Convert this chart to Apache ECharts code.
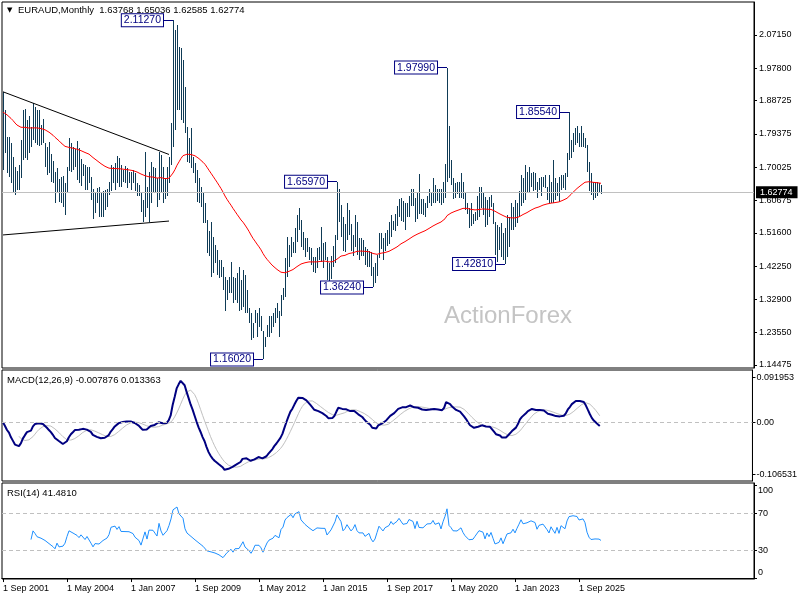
<!DOCTYPE html>
<html>
<head>
<meta charset="utf-8">
<title>EURAUD Monthly</title>
<script src="https://cdn.jsdelivr.net/npm/echarts@6.0.0/dist/echarts.min.js"></script>
<style>
html,body{margin:0;padding:0;background:#fff;}
#chart{width:800px;height:600px;}
</style>
</head>
<body>
<div id="chart"></div>
<script>
// ---------- DATA (monthly bars, first bar = Sep 2001) ----------
const high = [
1.912,1.861,1.786,1.784,1.769,1.728,1.702,1.690,1.706,1.777,
1.861,1.863,1.833,1.844,1.814,1.880,1.868,1.861,1.861,1.819,
1.835,1.767,1.756,1.772,1.737,1.719,1.688,1.697,1.666,1.674,
1.676,1.657,1.700,1.781,1.767,1.758,1.750,1.774,1.753,1.722,
1.710,1.706,1.702,1.702,1.674,1.638,1.629,1.641,1.646,1.627,
1.632,1.636,1.638,1.660,1.706,1.702,1.711,1.733,1.725,1.706,
1.692,1.704,1.697,1.688,1.688,1.691,1.683,1.655,1.650,1.627,
1.608,1.744,1.646,1.688,1.716,1.702,1.697,1.669,1.744,1.735,
1.700,1.670,1.700,1.730,1.825,2.1127,2.086,2.100,2.039,2.034,
2.001,1.926,1.814,1.781,1.809,1.730,1.711,1.692,1.669,1.646,
1.627,1.599,1.552,1.520,1.547,1.505,1.482,1.468,1.440,1.440,
1.421,1.393,1.383,1.393,1.435,1.393,1.388,1.402,1.421,1.383,
1.412,1.398,1.355,1.304,1.290,1.262,1.299,1.290,1.304,1.281,
1.239,1.224,1.257,1.281,1.281,1.290,1.304,1.318,1.295,1.341,
1.360,1.444,1.505,1.482,1.505,1.491,1.529,1.566,1.585,1.552,
1.519,1.501,1.501,1.477,1.472,1.449,1.449,1.472,1.477,1.533,
1.486,1.491,1.449,1.430,1.452,1.480,1.510,1.6597,1.640,1.595,
1.560,1.540,1.600,1.580,1.540,1.510,1.565,1.545,1.500,1.500,
1.495,1.475,1.470,1.465,1.462,1.420,1.430,1.455,1.515,1.515,
1.500,1.515,1.525,1.545,1.565,1.550,1.570,1.590,1.610,1.615,
1.605,1.600,1.600,1.620,1.640,1.640,1.615,1.630,1.680,1.610,
1.610,1.600,1.620,1.640,1.630,1.670,1.650,1.640,1.640,1.640,
1.660,1.710,1.9799,1.815,1.720,1.670,1.655,1.660,1.660,1.685,
1.660,1.630,1.600,1.585,1.600,1.570,1.575,1.618,1.645,1.645,
1.627,1.617,1.608,1.617,1.622,1.600,1.547,1.538,1.533,1.543,
1.515,1.529,1.566,1.561,1.599,1.589,1.608,1.599,1.632,1.678,
1.669,1.707,1.688,1.702,1.683,1.688,1.683,1.660,1.669,1.674,
1.674,1.678,1.646,1.678,1.660,1.720,1.669,1.655,1.674,1.678,
1.678,1.683,1.739,1.8554,1.777,1.797,1.809,1.816,1.795,1.816,
1.795,1.781,1.763,1.716,1.683,1.660,1.660,1.660,1.655,1.65036
];
const low = [
1.692,1.739,1.683,1.674,1.655,1.627,1.622,1.636,1.636,1.670,
1.720,1.725,1.720,1.739,1.758,1.777,1.767,1.763,1.760,1.763,
1.769,1.702,1.678,1.683,1.660,1.655,1.599,1.627,1.603,1.599,
1.589,1.566,1.630,1.690,1.688,1.692,1.702,1.664,1.655,1.647,
1.675,1.636,1.636,1.657,1.608,1.554,1.571,1.599,1.561,1.561,
1.561,1.580,1.589,1.622,1.632,1.655,1.636,1.655,1.646,1.646,
1.660,1.655,1.641,1.655,1.636,1.655,1.632,1.618,1.619,1.575,
1.547,1.561,1.585,1.547,1.600,1.630,1.627,1.589,1.608,1.630,
1.600,1.610,1.620,1.655,1.706,1.758,1.805,1.861,1.861,1.833,
1.823,1.795,1.716,1.711,1.697,1.683,1.655,1.603,1.599,1.589,
1.543,1.543,1.458,1.450,1.393,1.402,1.430,1.398,1.390,1.393,
1.355,1.295,1.327,1.346,1.346,1.318,1.327,1.318,1.295,1.299,
1.309,1.290,1.290,1.262,1.215,1.220,1.262,1.224,1.252,1.239,
1.1602,1.196,1.224,1.224,1.234,1.252,1.262,1.276,1.224,1.281,
1.327,1.337,1.393,1.421,1.449,1.458,1.458,1.491,1.524,1.477,
1.468,1.449,1.463,1.440,1.426,1.407,1.402,1.416,1.440,1.435,
1.416,1.440,1.383,1.374,1.385,1.420,1.430,1.495,1.545,1.505,
1.465,1.462,1.495,1.510,1.465,1.450,1.475,1.455,1.440,1.450,
1.450,1.425,1.420,1.420,1.395,1.3624,1.375,1.395,1.445,1.470,
1.440,1.465,1.480,1.485,1.505,1.525,1.520,1.535,1.560,1.550,
1.545,1.525,1.560,1.560,1.590,1.590,1.545,1.555,1.570,1.570,
1.565,1.560,1.585,1.600,1.590,1.600,1.600,1.605,1.600,1.595,
1.600,1.615,1.660,1.670,1.650,1.610,1.615,1.625,1.615,1.615,
1.610,1.580,1.570,1.530,1.535,1.540,1.550,1.552,1.560,1.585,
1.566,1.533,1.538,1.561,1.589,1.540,1.454,1.435,1.468,1.449,
1.440,1.4281,1.449,1.477,1.524,1.524,1.533,1.543,1.561,1.590,
1.599,1.608,1.627,1.627,1.646,1.632,1.636,1.613,1.636,1.618,
1.646,1.641,1.608,1.599,1.599,1.599,1.608,1.618,1.603,1.636,
1.641,1.636,1.674,1.7205,1.725,1.744,1.763,1.767,1.758,1.758,
1.758,1.753,1.688,1.632,1.622,1.608,1.613,1.618,1.627,1.62585
];
const close = [
1.855,1.760,1.730,1.740,1.670,1.670,1.640,1.660,1.700,1.760,
1.820,1.800,1.810,1.760,1.770,1.860,1.830,1.790,1.800,1.770,
1.780,1.740,1.720,1.700,1.690,1.660,1.630,1.670,1.620,1.610,
1.620,1.640,1.690,1.740,1.730,1.720,1.730,1.700,1.680,1.700,
1.690,1.660,1.680,1.670,1.620,1.580,1.600,1.610,1.590,1.600,
1.610,1.600,1.620,1.640,1.690,1.680,1.700,1.680,1.700,1.670,
1.680,1.670,1.680,1.670,1.670,1.660,1.640,1.630,1.620,1.590,
1.580,1.650,1.600,1.660,1.670,1.660,1.640,1.620,1.720,1.660,
1.620,1.640,1.660,1.710,1.790,1.960,1.960,2.030,1.970,1.990,
1.940,1.820,1.760,1.740,1.710,1.710,1.660,1.630,1.610,1.600,
1.560,1.550,1.480,1.460,1.460,1.450,1.440,1.430,1.410,1.400,
1.360,1.320,1.360,1.370,1.380,1.340,1.360,1.340,1.350,1.330,
1.380,1.320,1.300,1.270,1.230,1.250,1.280,1.260,1.270,1.240,
1.180,1.210,1.240,1.260,1.250,1.270,1.290,1.280,1.270,1.330,
1.350,1.420,1.450,1.470,1.490,1.470,1.520,1.540,1.550,1.500,
1.490,1.470,1.480,1.450,1.440,1.430,1.420,1.450,1.460,1.450,
1.440,1.450,1.410,1.400,1.440,1.450,1.500,1.570,1.590,1.540,
1.470,1.490,1.530,1.520,1.480,1.500,1.540,1.490,1.470,1.480,
1.470,1.440,1.430,1.460,1.410,1.380,1.400,1.450,1.510,1.490,
1.470,1.500,1.500,1.520,1.560,1.540,1.550,1.570,1.600,1.600,
1.565,1.580,1.575,1.610,1.610,1.600,1.560,1.620,1.580,1.590,
1.580,1.590,1.610,1.620,1.615,1.640,1.620,1.620,1.630,1.600,
1.650,1.700,1.800,1.680,1.660,1.630,1.650,1.630,1.640,1.660,
1.620,1.590,1.580,1.550,1.540,1.550,1.570,1.580,1.610,1.610,
1.600,1.550,1.590,1.560,1.590,1.540,1.480,1.480,1.490,1.520,
1.460,1.450,1.530,1.540,1.540,1.570,1.540,1.580,1.620,1.670,
1.640,1.640,1.650,1.670,1.670,1.660,1.660,1.620,1.650,1.660,
1.660,1.650,1.630,1.610,1.650,1.630,1.610,1.650,1.610,1.670,
1.670,1.650,1.720,1.770,1.760,1.790,1.780,1.790,1.770,1.770,
1.780,1.760,1.700,1.660,1.640,1.630,1.640,1.645,1.63768,1.62774
];

// header / text values
const symbolTitle = 'EURAUD,Monthly';
const lastOHLC = ['1.63768', '1.65036', '1.62585', '1.62774'];
const lastPrice = 1.62774;
const macdHeader = 'MACD(12,26,9) -0.007876 0.013363';
const rsiHeader = 'RSI(14) 41.4810';
const watermarkText = 'ActionForex';

// time axis
const monthNames = ['Jan','Feb','Mar','Apr','May','Jun','Jul','Aug','Sep','Oct','Nov','Dec'];
const startYear = 2001, startMonth = 8;   // Sep 2001
const slotCount = 376;                    // includes empty right-hand shift area
const xTickEvery = 32;
const xTickLabels = ['1 Sep 2001','1 May 2004','1 Jan 2007','1 Sep 2009','1 May 2012','1 Jan 2015','1 Sep 2017','1 May 2020','1 Jan 2023','1 Sep 2025'];

// price axis ticks
const priceTicks = [2.0715, 1.978, 1.88725, 1.79375, 1.70025, 1.60675, 1.516, 1.4225, 1.329, 1.2355, 1.14475];
const priceTickLabels = ['2.07150','1.97800','1.88725','1.79375','1.70025','1.60675','1.51600','1.42250','1.32900','1.23550','1.14475'];
const macdTicks = [0.091953, 0, -0.106531];
const macdTickLabels = ['0.091953', '0.00', '-0.106531'];
const rsiTicks = [100, 70, 30, 0];
const rsiTickLabels = ['{dn|100}', '70', '30', '{up|0}'];
const rsiLevels = [70, 30];

// annotated pivots
const pivotIndex = [85, 222, 283, 167, 251, 185, 130];
const pivotPrice = [2.1127, 1.9799, 1.8554, 1.6597, 1.4281, 1.3624, 1.1602];
const pivotText  = ['2.11270','1.97990','1.85540','1.65970','1.42810','1.36240','1.16020'];
const pivotLead = 5; // connector length in bars

// trend lines [index, price]
const trendUpper = [[0, 1.912], [83, 1.736]];
const trendLower = [[0, 1.510], [83, 1.549]];

// ---------- derived ----------
const N = close.length;
const categories = [];
for (let k = 0; k < slotCount; k++) {
  const m = (startMonth + k) % 12;
  const y = startYear + Math.floor((startMonth + k) / 12);
  categories.push('1 ' + monthNames[m] + ' ' + y);
}
function ema(src, n) {
  const k = 2 / (n + 1), out = [];
  src.forEach((v, i) => out.push(i === 0 ? v : v * k + out[i - 1] * (1 - k)));
  return out;
}
const ma55 = ema(close, 55);
const e12 = ema(close, 12), e26 = ema(close, 26);
const macd = close.map((_, i) => e12[i] - e26[i]);
const signal = macd.map((_, i) => i < 8 ? null : macd.slice(i - 8, i + 1).reduce((a, b) => a + b, 0) / 9);
const rsi = close.map(() => null);
(function () {
  let ag = 0, al = 0;
  for (let i = 1; i <= 14; i++) { const d = close[i] - close[i - 1]; if (d > 0) ag += d; else al -= d; }
  ag /= 14; al /= 14;
  rsi[14] = al === 0 ? 100 : 100 - 100 / (1 + ag / al);
  for (let i = 15; i < N; i++) {
    const d = close[i] - close[i - 1];
    ag = (ag * 13 + (d > 0 ? d : 0)) / 14;
    al = (al * 13 + (d < 0 ? -d : 0)) / 14;
    rsi[i] = al === 0 ? 100 : 100 - 100 / (1 + ag / al);
  }
})();

function labelFor(vals, labs) {
  return function (v) {
    let k = 0, best = Infinity;
    vals.forEach((t, j) => { const d = Math.abs(t - v); if (d < best) { best = d; k = j; } });
    return labs[k];
  };
}

const FONT = 'Liberation Sans, Arial, sans-serif';
const BAR = '#0f3b56';
const showTick = (idx) => idx % xTickEvery === 0 && idx < N;

const xAxes = [0, 1, 2].map(g => ({
  type: 'category', gridIndex: g, data: categories, boundaryGap: true,
  show: g === 2,
  axisLine: { show: true, lineStyle: { color: '#000', width: 1 } },
  axisTick: { show: true, alignWithLabel: true, interval: showTick, length: 4, lineStyle: { color: '#000' } },
  axisLabel: {
    interval: showTick, align: 'left', margin: 5, fontSize: 9, color: '#000', fontFamily: FONT,
    formatter: (v, idx) => xTickLabels[Math.round(idx / xTickEvery)] || ''
  },
  splitLine: { show: false }
}));

const yBase = {
  type: 'value', position: 'right', splitLine: { show: false },
  axisLine: { show: true, lineStyle: { color: '#000' } }
};

const markData = [];
markData.push({
  yAxis: lastPrice,
  lineStyle: { color: '#c0c0c0', type: 'solid', width: 1 },
  label: { show: true, position: 'end', distance: 2, formatter: lastOHLC[3], backgroundColor: '#000', color: '#fff',
           padding: [2, 5, 1, 4], fontSize: 9, fontFamily: FONT }
});
[trendUpper, trendLower].forEach(t => {
  markData.push([
    { coord: t[0], lineStyle: { color: '#000', width: 1, type: 'solid' }, label: { show: false } },
    { coord: t[1] }
  ]);
});
pivotIndex.forEach((idx, k) => {
  markData.push([
    { coord: [idx - pivotLead, pivotPrice[k]], lineStyle: { color: '#000080', width: 1, type: 'solid' },
      label: { show: true, position: 'start', distance: 0, formatter: pivotText[k], color: '#000080',
               backgroundColor: '#fff', borderColor: '#000080', borderWidth: 1, padding: [1, 2, 0, 2],
               fontSize: 10.5, lineHeight: 11, fontFamily: FONT } },
    { coord: [idx, pivotPrice[k]] }
  ]);
});

const option = {
  animation: false,
  backgroundColor: '#fff',
  textStyle: { fontFamily: FONT },
  grid: [
    { left: 2, right: 46, top: 2, height: 366, show: true, borderColor: '#000', borderWidth: 1 },
    { left: 2, right: 46, top: 370, height: 111, show: true, borderColor: '#000', borderWidth: 1 },
    { left: 2, right: 46, top: 483, height: 96, show: true, borderColor: '#000', borderWidth: 1 }
  ],
  xAxis: xAxes,
  yAxis: [
    Object.assign({}, yBase, {
      gridIndex: 0, min: 1.1363, max: 2.1642,
      axisTick: { show: true, length: 3, customValues: priceTicks, lineStyle: { color: '#000' } },
      axisLabel: { customValues: priceTicks, formatter: labelFor(priceTicks, priceTickLabels), fontSize: 9, margin: 5, color: '#000', fontFamily: FONT }
    }),
    Object.assign({}, yBase, {
      gridIndex: 1, min: -0.1206, max: 0.1075,
      axisTick: { show: true, length: 3, customValues: macdTicks, lineStyle: { color: '#000' } },
      axisLabel: { customValues: macdTicks, formatter: labelFor(macdTicks, macdTickLabels), fontSize: 9, margin: 4, color: '#000', fontFamily: FONT }
    }),
    Object.assign({}, yBase, {
      gridIndex: 2, min: -1.03, max: 102.76,
      axisTick: { show: true, length: 3, customValues: rsiTicks, lineStyle: { color: '#000' } },
      axisLabel: { customValues: rsiTicks, formatter: labelFor(rsiTicks, rsiTickLabels), fontSize: 9, margin: 4, color: '#000', fontFamily: FONT,
        rich: { dn: { padding: [10, 0, 0, 0], fontSize: 9, color: '#000' }, up: { padding: [0, 0, 12, 0], fontSize: 9, color: '#000' } } }
    })
  ],
  graphic: [
    { type: 'text', x: 508, y: 316, z: 0, silent: true,
      style: { text: watermarkText, align: 'center', verticalAlign: 'middle', fontSize: 24, fontFamily: FONT, fill: '#c4c4c4' } },
    { type: 'text', left: 7, top: 7, z: 100, style: { text: '▼', fontSize: 7, fill: '#000', fontFamily: 'DejaVu Sans' } },
    { type: 'text', left: 18, top: 5, z: 100,
      style: { text: symbolTitle + '  ' + lastOHLC.join(' '), fontSize: 9.5, fontFamily: FONT, fill: '#000' } },
    { type: 'text', left: 7, top: 375, z: 100, style: { text: macdHeader, fontSize: 9.5, fontFamily: FONT, fill: '#000' } },
    { type: 'text', left: 7, top: 488, z: 100, style: { text: rsiHeader, fontSize: 9.5, fontFamily: FONT, fill: '#000' } }
  ],
  series: [
    {
      type: 'custom', name: 'EURAUD', xAxisIndex: 0, yAxisIndex: 0, z: 2,
      data: high.map((h, i) => [i, h, low[i], close[i]]),
      encode: { x: 0, y: [1, 2] },
      renderItem: function (params, api) {
        const i = api.value(0);
        const top = api.coord([i, api.value(1)]);
        const bot = api.coord([i, api.value(2)]);
        const x = Math.round(top[0]);
        return { type: 'rect', shape: { x: x, y: Math.round(top[1]), width: 1, height: Math.max(1, Math.round(bot[1]) - Math.round(top[1])) },
                 style: { fill: BAR } };
      }
    },
    {
      type: 'line', name: 'EMA55', xAxisIndex: 0, yAxisIndex: 0, z: 3,
      data: ma55, symbol: 'none', lineStyle: { color: '#ff0000', width: 1 },
      markLine: { silent: true, symbol: ['none', 'none'], animation: false, data: markData }
    },
    {
      type: 'line', name: 'MACD', xAxisIndex: 1, yAxisIndex: 1, z: 3,
      data: macd, symbol: 'none', lineStyle: { color: '#000080', width: 2 },
      markLine: { silent: true, symbol: ['none', 'none'], animation: false, label: { show: false },
        data: [{ yAxis: 0 }], lineStyle: { color: '#c0c0c0', type: [4, 3], width: 1 } }
    },
    {
      type: 'line', name: 'Signal', xAxisIndex: 1, yAxisIndex: 1, z: 2,
      data: signal, symbol: 'none', lineStyle: { color: '#c0c0c0', width: 1 }
    },
    {
      type: 'line', name: 'RSI', xAxisIndex: 2, yAxisIndex: 2, z: 3,
      data: rsi, symbol: 'none', lineStyle: { color: '#1e90ff', width: 1 },
      markLine: { silent: true, symbol: ['none', 'none'], animation: false, label: { show: false },
        data: rsiLevels.map(v => ({ yAxis: v })), lineStyle: { color: '#c0c0c0', type: [4, 3], width: 1 } }
    }
  ]
};

const chart = echarts.init(document.getElementById('chart'), null, { renderer: 'canvas' });
chart.setOption(option);
</script>
</body>
</html>
